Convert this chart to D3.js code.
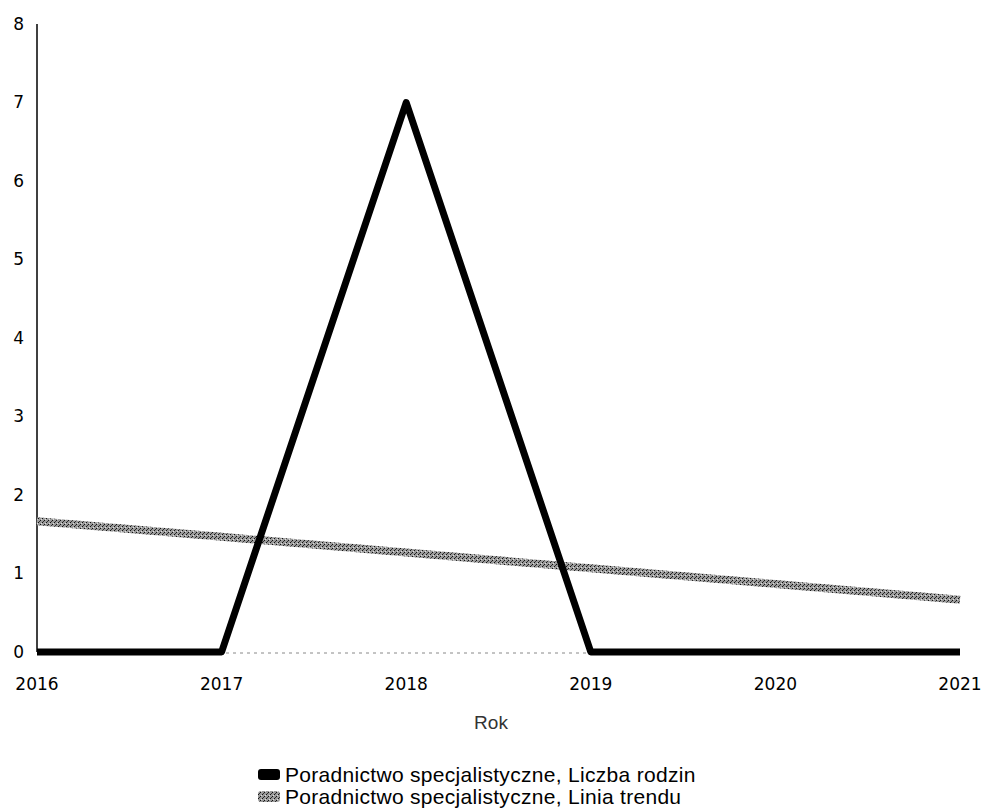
<!DOCTYPE html>
<html><head><meta charset="utf-8">
<script src="https://cdn.jsdelivr.net/npm/d3@7"></script>
<style>body{margin:0;background:#fff}svg{display:block}</style>
</head><body>
<script>
const years = [2016, 2017, 2018, 2019, 2020, 2021];
const liczbaRodzin = [0, 0, 7, 0, 0, 0];
const liniaTrendu = [1.667, 1.467, 1.267, 1.067, 0.867, 0.667];
const yTicks = [0, 1, 2, 3, 4, 5, 6, 7, 8];
const seriesNames = ["Poradnictwo specjalistyczne, Liczba rodzin", "Poradnictwo specjalistyczne, Linia trendu"];
const xTitle = "Rok";

const W = 983, H = 810;
const svg = d3.select("body").append("svg").attr("width", W).attr("height", H);

const defs = svg.append("defs");
const pat = defs.append("pattern").attr("id", "dither").attr("width", 4).attr("height", 4).attr("patternUnits", "userSpaceOnUse");
pat.append("rect").attr("width", 4).attr("height", 4).attr("fill", "#9a9a9a");
pat.append("rect").attr("x", 0).attr("y", 0).attr("width", 1).attr("height", 1).attr("fill", "#111");
pat.append("rect").attr("x", 2).attr("y", 2).attr("width", 1).attr("height", 1).attr("fill", "#111");
pat.append("rect").attr("x", 3).attr("y", 1).attr("width", 1).attr("height", 1).attr("fill", "#333");
pat.append("rect").attr("x", 1).attr("y", 3).attr("width", 1).attr("height", 1).attr("fill", "#ddd");

const x = d3.scaleLinear().domain([2016, 2021]).range([37, 960]);
const y = d3.scaleLinear().domain([0, 8]).range([652, 24]);

svg.append("line").attr("x1", 37).attr("x2", 37).attr("y1", y(8)).attr("y2", y(0))
  .attr("stroke", "#000").attr("stroke-width", 1.5);
svg.append("line").attr("x1", 37).attr("x2", 960).attr("y1", y(0) + 1).attr("y2", y(0) + 1)
  .attr("stroke", "#888").attr("stroke-width", 1).attr("stroke-dasharray", "3,4");

svg.append("g").selectAll("text").data(yTicks).join("text")
  .attr("x", 24).attr("y", d => y(d)).attr("dy", "0.35em").attr("text-anchor", "end")
  .attr("font-family", "DejaVu Sans, Verdana, sans-serif").attr("font-size", 17).attr("fill", "#000")
  .text(d => d);

svg.append("g").selectAll("text").data(years).join("text")
  .attr("x", d => x(d)).attr("y", 690).attr("text-anchor", "middle")
  .attr("font-family", "DejaVu Sans, Verdana, sans-serif").attr("font-size", 17).attr("fill", "#000")
  .text(d => d);

svg.append("text").attr("x", 491).attr("y", 729).attr("text-anchor", "middle")
  .attr("font-family", "Liberation Sans, Arial, sans-serif").attr("font-size", 19).attr("fill", "#333")
  .text(xTitle);

const line = d3.line().x((d, i) => x(years[i])).y(d => y(d));

svg.append("path").datum(liniaTrendu).attr("d", line)
  .attr("fill", "none").attr("stroke", "url(#dither)").attr("stroke-width", 8);

svg.append("path").datum(liczbaRodzin).attr("d", line)
  .attr("fill", "none").attr("stroke", "#000").attr("stroke-width", 7)
  .attr("stroke-linejoin", "round").attr("stroke-linecap", "butt");

const lg = svg.append("g");
const legendFills = ["#000", "url(#dither)"];
seriesNames.forEach((name, i) => {
  const yy = 782 + i * 22;
  lg.append("rect").attr("x", 258).attr("y", yy - 13).attr("width", 22).attr("height", 11).attr("rx", 3)
    .attr("fill", legendFills[i]);
  lg.append("text").attr("x", 285).attr("y", yy)
    .attr("font-family", "Liberation Sans, Arial, sans-serif").attr("font-size", 21)
    .attr("letter-spacing", 0.3).attr("fill", "#000")
    .text(name);
});
</script>
</body></html>
